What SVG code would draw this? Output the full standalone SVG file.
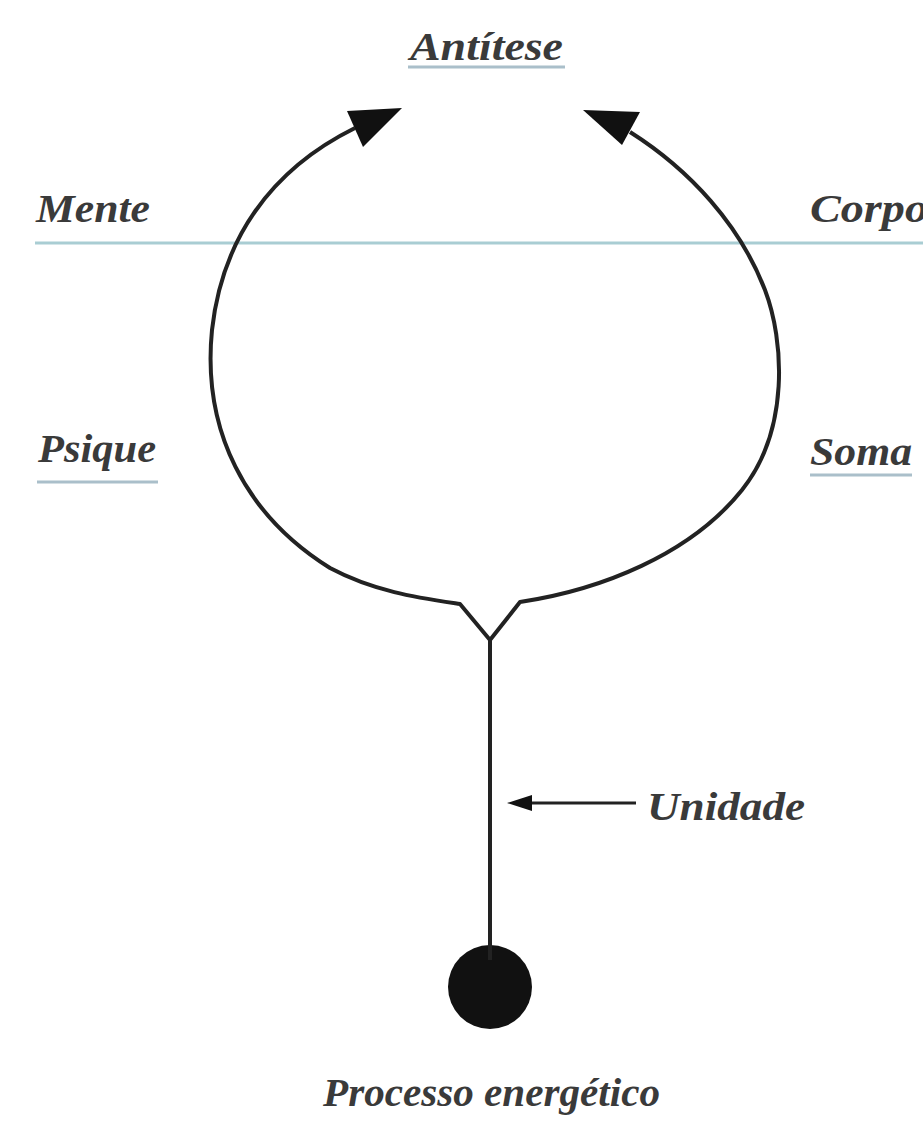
<svg xmlns="http://www.w3.org/2000/svg" width="923" height="1122" viewBox="0 0 923 1122">
<style>
.lbl{font-family:"Liberation Serif",serif;font-style:italic;font-weight:bold;font-size:40px;fill:#3a3a3a;}
.ul{stroke:#aabfca;stroke-width:3;}
.conn{fill:none;stroke:#222;stroke-width:4;stroke-linejoin:round;}
.head{fill:#111;}
</style>
<rect width="923" height="1122" fill="#fff"/>
<line x1="35" y1="243" x2="923" y2="243" stroke="#a9cdd3" stroke-width="3"/>
<g id="antitese"><text class="lbl" x="410" y="60" textLength="153" lengthAdjust="spacingAndGlyphs">Antítese</text><line class="ul" x1="408" y1="67" x2="565" y2="67"/></g>
<g id="mente"><text class="lbl" x="36" y="222" textLength="114" lengthAdjust="spacingAndGlyphs">Mente</text></g>
<g id="corpo"><text class="lbl" x="810" y="222" textLength="118" lengthAdjust="spacingAndGlyphs">Corpo</text></g>
<g id="psique"><text class="lbl" x="38" y="462" textLength="118" lengthAdjust="spacingAndGlyphs">Psique</text><line class="ul" x1="37" y1="482" x2="158" y2="482"/></g>
<g id="soma"><text class="lbl" x="810" y="465" textLength="102" lengthAdjust="spacingAndGlyphs">Soma</text><line class="ul" x1="810" y1="475" x2="912" y2="475"/></g>
<g id="unidade"><text class="lbl" x="647" y="820" textLength="158" lengthAdjust="spacingAndGlyphs">Unidade</text></g>
<g id="processo"><circle cx="490" cy="987" r="42" fill="#111"/><text class="lbl" x="323" y="1106" textLength="337" lengthAdjust="spacingAndGlyphs">Processo energético</text></g>
<g id="connectors">
<path class="conn" d="M 355,128 C 270,170 222,240 212,330 C 202,430 245,515 330,568 C 375,592 420,598 460,604 L 490,640"/>
<polygon class="head" points="347,111 402,108 363,147"/>
<path class="conn" d="M 490,640 L 520,602 C 600,590 690,555 742,490 C 790,430 784,340 765,290 C 740,225 690,170 630,132"/>
<polygon class="head" points="583,110 640,112 622,145"/>
<line class="conn" x1="490" y1="638" x2="490" y2="960"/>
<line class="conn" x1="525" y1="803" x2="636" y2="803" style="stroke-width:3"/>
<polygon class="head" points="507,803 532,795 532,811"/>
</g>
</svg>
